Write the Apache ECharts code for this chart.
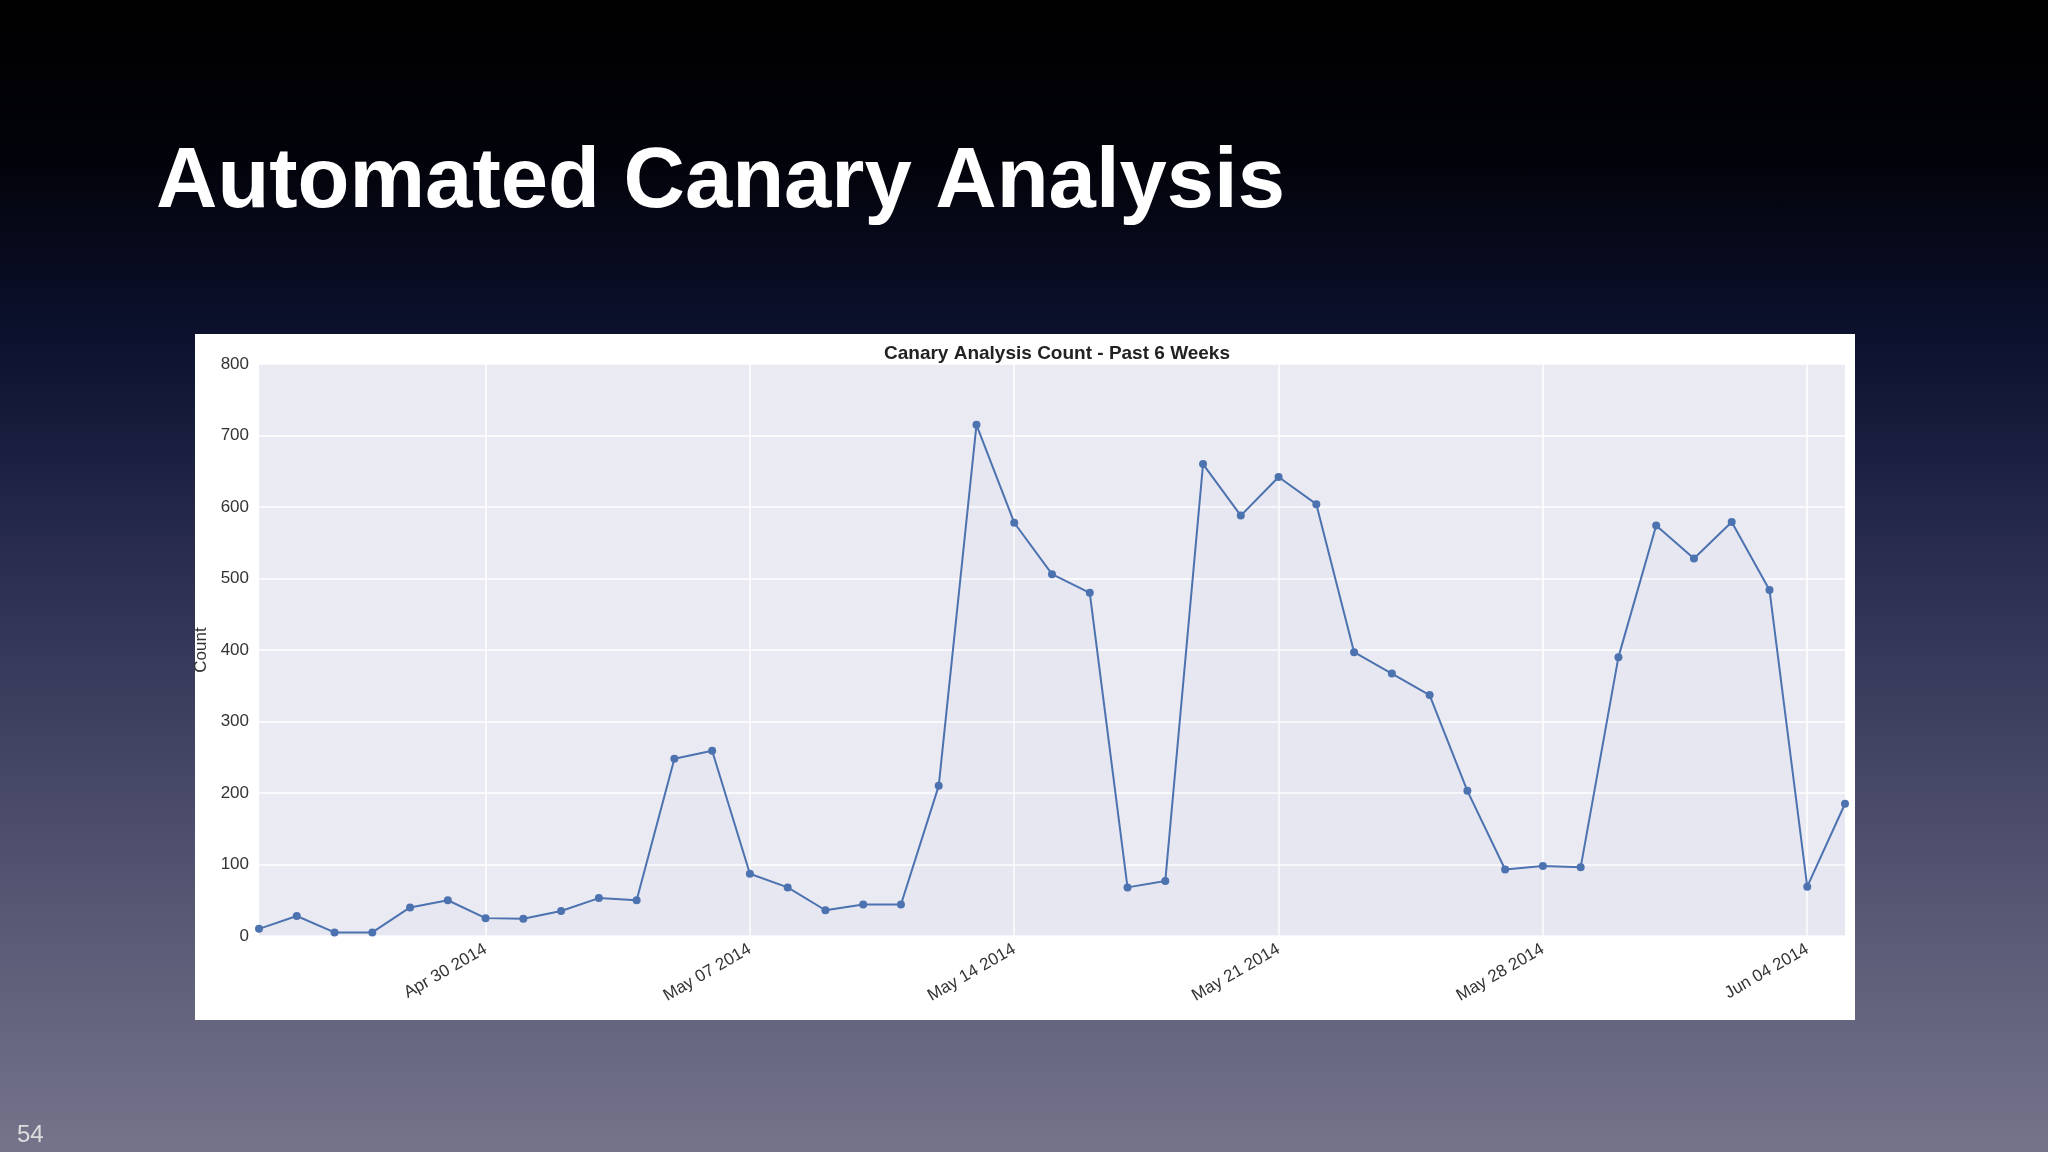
<!DOCTYPE html>
<html><head><meta charset="utf-8">
<script src="https://cdn.jsdelivr.net/npm/echarts@6/dist/echarts.min.js"></script>
<style>html,body{margin:0;padding:0;}#c{width:2048px;height:1152px;background:linear-gradient(to bottom,#000 0%,#02030a 14%,#0d1230 30%,#2c2f52 50%,#4d4e6c 72%,#75748b 100%);}</style>
</head><body><div id="c"></div>
<script>
const categories = ["Apr 24 2014","Apr 25 2014","Apr 26 2014","Apr 27 2014","Apr 28 2014","Apr 29 2014","Apr 30 2014","May 01 2014","May 02 2014","May 03 2014","May 04 2014","May 05 2014","May 06 2014","May 07 2014","May 08 2014","May 09 2014","May 10 2014","May 11 2014","May 12 2014","May 13 2014","May 14 2014","May 15 2014","May 16 2014","May 17 2014","May 18 2014","May 19 2014","May 20 2014","May 21 2014","May 22 2014","May 23 2014","May 24 2014","May 25 2014","May 26 2014","May 27 2014","May 28 2014","May 29 2014","May 30 2014","May 31 2014","Jun 01 2014","Jun 02 2014","Jun 03 2014","Jun 04 2014","Jun 05 2014"];
const counts = [10,28,5,5,40,50,25,24,35,53,50,248,259,87,68,36,44,44,210,715,578,506,480,68,77,660,588,642,604,397,367,337,203,93,98,96,390,574,528,579,484,69,185];
const tickLabels = ["Apr 30 2014","May 07 2014","May 14 2014","May 21 2014","May 28 2014","Jun 04 2014"];
const chart = echarts.init(document.getElementById('c'));
const showTick = (i) => tickLabels.includes(categories[i]);
chart.setOption({
  animation:false,
  graphic:[{type:'rect',shape:{x:195,y:334,width:1660,height:686},style:{fill:'#fff'},z:-10}],
  title:[
    {text:'Automated Canary Analysis',left:151,top:136,textStyle:{color:'#fff',fontSize:85,fontWeight:'bold',fontFamily:'Liberation Sans'}},
    {text:'Canary Analysis Count - Past 6 Weeks',left:1052,top:339,textAlign:'center',textStyle:{color:'#222',fontSize:19,fontWeight:'bold',fontFamily:'Liberation Sans'}},
    {text:'54',left:12,top:1118,textStyle:{color:'#ddd',fontSize:24,fontWeight:'normal',fontFamily:'Liberation Sans'}}
  ],
  grid:{left:259,top:364,width:1586,height:572,show:true,backgroundColor:'#eaeaf2',borderWidth:0},
  xAxis:{type:'category',data:categories,boundaryGap:false,
    axisLine:{show:false},axisTick:{show:false},
    axisLabel:{interval:showTick,rotate:30,color:'#333',fontSize:17,fontFamily:'Liberation Sans',margin:12},
    splitLine:{show:true,interval:showTick,lineStyle:{color:'#fff',width:1.5}}},
  yAxis:{type:'value',min:0,max:800,interval:100,name:'Count',nameLocation:'middle',nameGap:36,
    nameTextStyle:{color:'#333',fontSize:17,fontFamily:'Liberation Sans'},
    axisLine:{show:false},axisTick:{show:false},
    axisLabel:{color:'#333',fontSize:17,fontFamily:'Liberation Sans',margin:10},
    splitLine:{lineStyle:{color:'#fff',width:1.5}}},
  series:[{type:'line',data:counts,symbol:'circle',symbolSize:8,
    itemStyle:{color:'#4c72b0'},lineStyle:{color:'#4c72b0',width:2},
    areaStyle:{color:'rgba(76,114,176,0.03)'}}]
});
</script></body></html>
